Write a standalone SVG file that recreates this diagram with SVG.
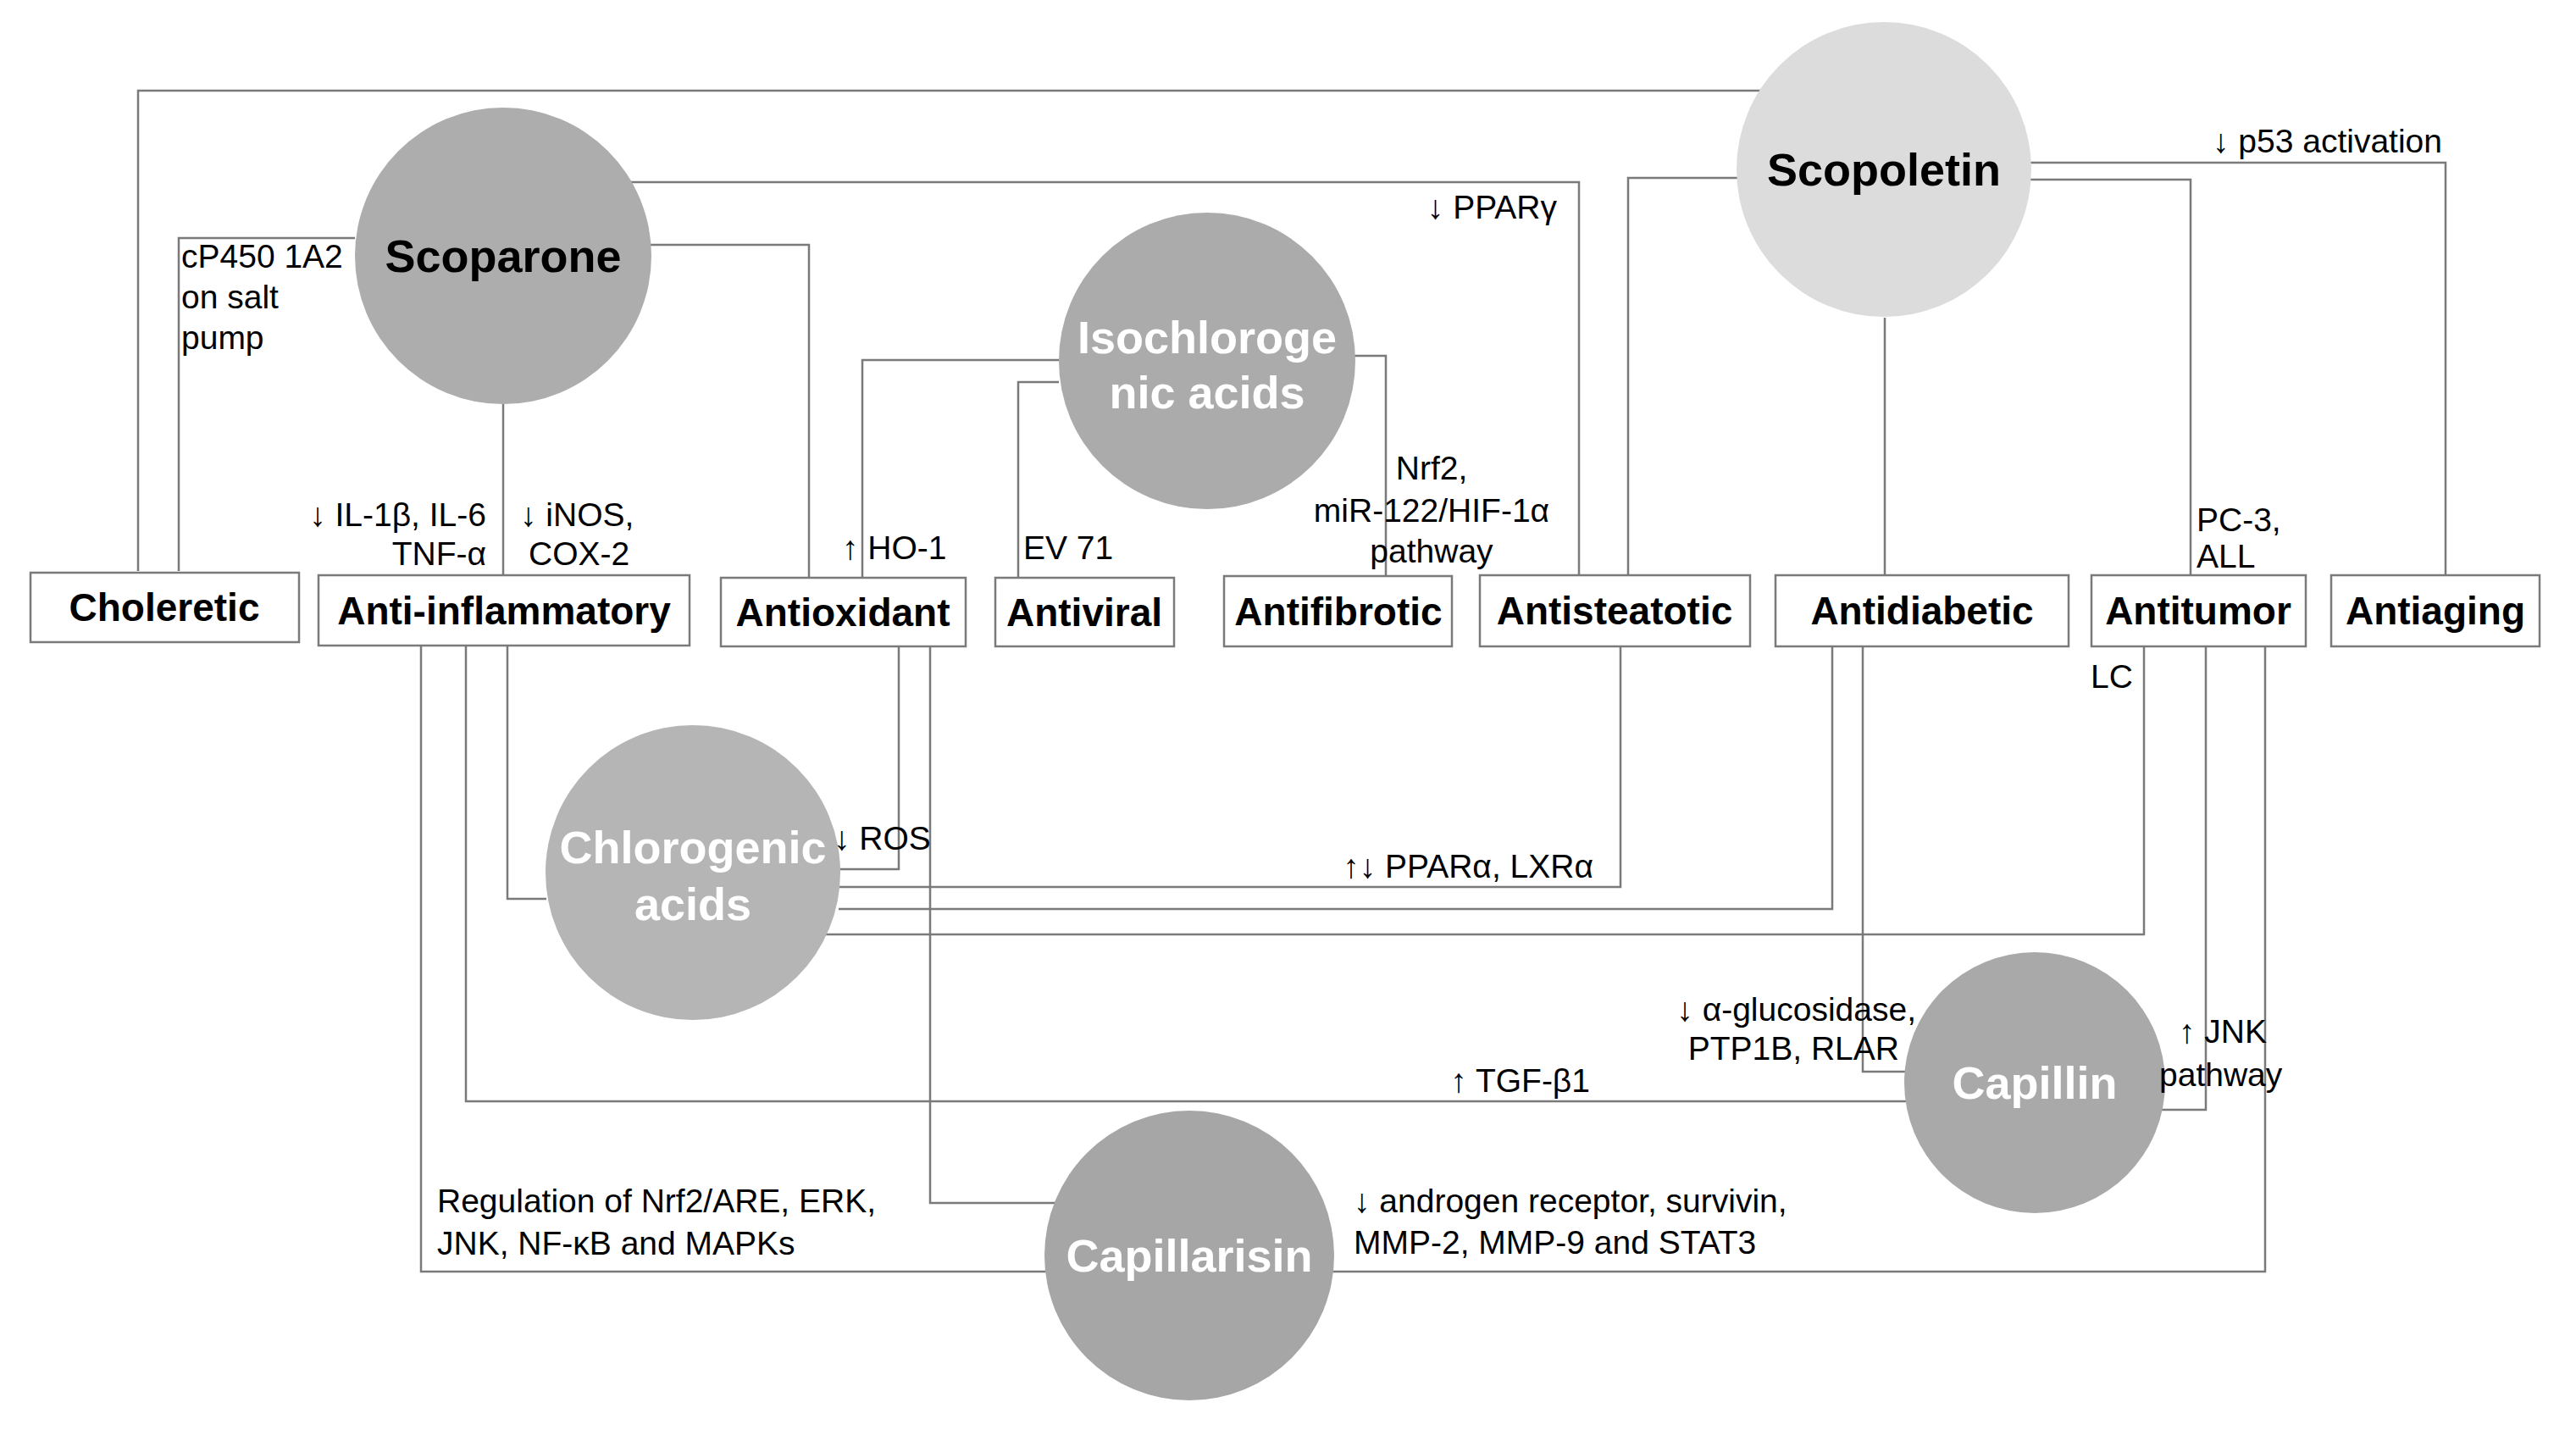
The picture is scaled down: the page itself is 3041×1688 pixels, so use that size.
<svg xmlns="http://www.w3.org/2000/svg" width="3041" height="1688" viewBox="0 0 3041 1688">
<style>
.c{fill:none;stroke:#7a7a7a;stroke-width:2.5}
.b{fill:#fff;stroke:#7a7a7a;stroke-width:2.5}
.bt{font-family:"Liberation Sans",Arial,sans-serif;font-size:46px;font-weight:bold;fill:#000;text-anchor:middle}
.ct{font-family:"Liberation Sans",Arial,sans-serif;font-size:54px;font-weight:bold;text-anchor:middle}
.l{font-family:"Liberation Sans",Arial,sans-serif;font-size:39px;fill:#000}
</style>
<rect width="3041" height="1688" fill="#fff"/>
<g id="connectors">
<polyline class="c" points="163,674 163,107 2079,107"/>
<polyline class="c" points="419,281 211,281 211,674"/>
<polyline class="c" points="734,215 1864,215 1864,679"/>
<polyline class="c" points="768,289 955,289 955,682"/>
<polyline class="c" points="594,477 594,679"/>
<polyline class="c" points="1250,425 1018,425 1018,682"/>
<polyline class="c" points="1250,451 1202,451 1202,682"/>
<polyline class="c" points="1598,420 1636,420 1636,679"/>
<polyline class="c" points="2051,210 1922,210 1922,679"/>
<polyline class="c" points="2225,375 2225,679"/>
<polyline class="c" points="2397,212 2586,212 2586,679"/>
<polyline class="c" points="2397,192 2887,192 2887,679"/>
<polyline class="c" points="599,762 599,1061 645,1061"/>
<polyline class="c" points="1061,763 1061,1026 988,1026"/>
<polyline class="c" points="550,762 550,1300 2251,1300"/>
<polyline class="c" points="497,762 497,1501 1236,1501"/>
<polyline class="c" points="1570,1501 2674,1501 2674,763"/>
<polyline class="c" points="1098,763 1098,1420 1250,1420"/>
<polyline class="c" points="990,1047 1913,1047 1913,763"/>
<polyline class="c" points="990,1073 2163,1073 2163,763"/>
<polyline class="c" points="970,1103 2531,1103 2531,763"/>
<polyline class="c" points="2199,763 2199,1265 2255,1265"/>
<polyline class="c" points="2604,763 2604,1310 2548,1310"/>
</g>
<g id="scoparone"><circle cx="594" cy="302" r="175" fill="#adadad"/><text class="ct" x="594" y="321" fill="#000">Scoparone</text></g>
<g id="isochlorogenic"><circle cx="1425" cy="426" r="175" fill="#ababab"/><text class="ct" x="1425" y="417" fill="#fff">Isochloroge</text><text class="ct" x="1425" y="482" fill="#fff">nic acids</text></g>
<g id="scopoletin"><circle cx="2224" cy="200" r="174" fill="#dcdcdc"/><text class="ct" x="2224" y="219" fill="#000">Scopoletin</text></g>
<g id="chlorogenic"><circle cx="818" cy="1030" r="174" fill="#b5b5b5"/><text class="ct" x="818" y="1019" fill="#fff">Chlorogenic</text><text class="ct" x="818" y="1086" fill="#fff">acids</text></g>
<g id="capillarisin"><circle cx="1404" cy="1482" r="171" fill="#a6a6a6"/><text class="ct" x="1404" y="1501" fill="#fff">Capillarisin</text></g>
<g id="capillin"><circle cx="2402" cy="1278" r="154" fill="#a9a9a9"/><text class="ct" x="2402" y="1297" fill="#fff">Capillin</text></g>
<g id="choleretic"><rect class="b" x="36" y="676" width="317" height="82"/><text class="bt" x="194" y="733">Choleretic</text></g>
<g id="antiinflammatory"><rect class="b" x="376" y="679" width="438" height="83"/><text class="bt" x="595" y="737">Anti-inflammatory</text></g>
<g id="antioxidant"><rect class="b" x="851" y="682" width="289" height="81"/><text class="bt" x="995" y="739">Antioxidant</text></g>
<g id="antiviral"><rect class="b" x="1175" y="682" width="211" height="81"/><text class="bt" x="1280" y="739">Antiviral</text></g>
<g id="antifibrotic"><rect class="b" x="1445" y="680" width="269" height="83"/><text class="bt" x="1580" y="738">Antifibrotic</text></g>
<g id="antisteatotic"><rect class="b" x="1747" y="679" width="319" height="84"/><text class="bt" x="1906" y="737">Antisteatotic</text></g>
<g id="antidiabetic"><rect class="b" x="2096" y="679" width="346" height="84"/><text class="bt" x="2269" y="737">Antidiabetic</text></g>
<g id="antitumor"><rect class="b" x="2469" y="679" width="253" height="84"/><text class="bt" x="2595" y="737">Antitumor</text></g>
<g id="antiaging"><rect class="b" x="2752" y="679" width="246" height="84"/><text class="bt" x="2875" y="737">Antiaging</text></g>
<g id="labels">
<text class="l" x="214" y="316">cP450 1A2</text><text class="l" x="214" y="364">on salt</text><text class="l" x="214" y="412">pump</text>
<text class="l" x="1838" y="258" text-anchor="end">↓ PPARγ</text>
<text class="l" x="574" y="621" text-anchor="end">↓ IL-1β, IL-6</text><text class="l" x="574" y="667" text-anchor="end">TNF-α</text>
<text class="l" x="614" y="621">↓ iNOS,</text><text class="l" x="624" y="667">COX-2</text>
<text class="l" x="994" y="660">↑ HO-1</text>
<text class="l" x="1208" y="660">EV 71</text>
<text class="l" x="1690" y="566" text-anchor="middle">Nrf2,</text><text class="l" x="1690" y="616" text-anchor="middle">miR-122/HIF-1α</text><text class="l" x="1690" y="664" text-anchor="middle">pathway</text>
<text class="l" x="2612" y="180">↓ p53 activation</text>
<text class="l" x="2593" y="627">PC-3,</text><text class="l" x="2593" y="670">ALL</text>
<text class="l" x="2468" y="812">LC</text>
<text class="l" x="984" y="1003">↓ ROS</text>
<text class="l" x="1881" y="1036" text-anchor="end">↑↓ PPARα, LXRα</text>
<text class="l" x="2262" y="1205" text-anchor="end">↓ α-glucosidase,</text><text class="l" x="2242" y="1251" text-anchor="end">PTP1B, RLAR</text>
<text class="l" x="2572" y="1231">↑ JNK</text><text class="l" x="2549" y="1282">pathway</text>
<text class="l" x="1877" y="1289" text-anchor="end">↑ TGF-β1</text>
<text class="l" x="516" y="1431">Regulation of Nrf2/ARE, ERK,</text><text class="l" x="516" y="1481">JNK, NF-κB and MAPKs</text>
<text class="l" x="1598" y="1431">↓ androgen receptor, survivin,</text><text class="l" x="1598" y="1480">MMP-2, MMP-9 and STAT3</text>
</g>
</svg>
